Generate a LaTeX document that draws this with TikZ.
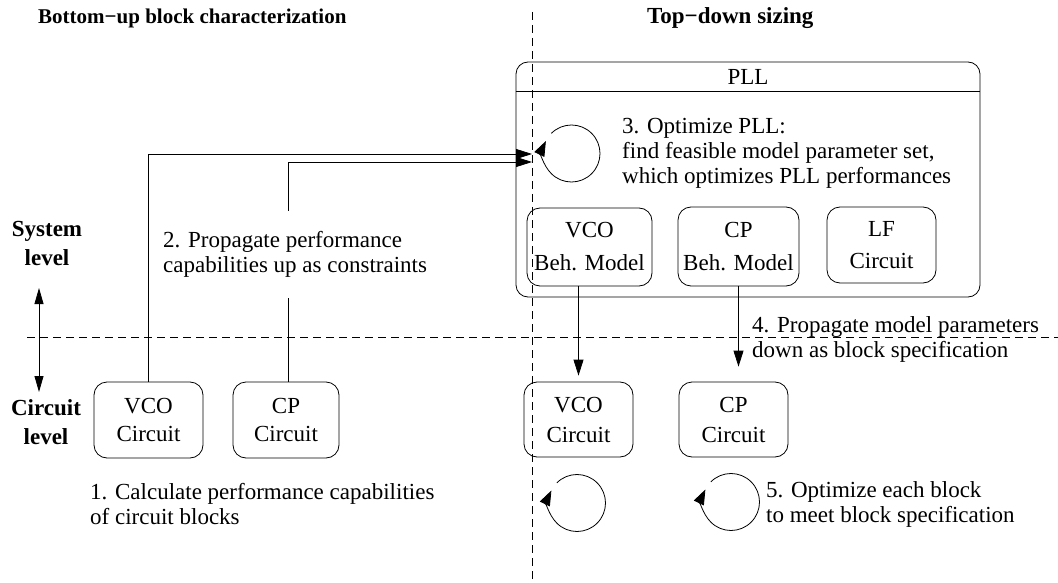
\documentclass[tikz,border=0pt]{standalone}
\usepackage{fontspec}
\setmainfont{Liberation Serif}
\usetikzlibrary{arrows.meta}
\begin{document}
\begin{tikzpicture}[x=1pt,y=-1pt,
  every node/.style={font=\fontsize{23}{25}\selectfont},
  conn/.style={line width=0.8pt},
  arr/.style={conn,-{Triangle[length=16pt,width=10pt]}},
  divider/.style={line width=0.8pt,dash pattern=on 8pt off 5pt},
  blockbox/.style={draw,line width=0.8pt,rounded corners=13pt,align=center,inner sep=0pt},
  note/.style={align=left,inner sep=0pt,anchor=west},
  heading/.style={font=\fontsize{23}{25}\selectfont\bfseries,inner sep=0pt},
  levellabel/.style={font=\fontsize{23}{29}\selectfont\bfseries,align=center,inner sep=0pt},
  loopy/.pic={\draw[conn,-{Triangle[length=15pt,width=11pt]}]
    (225:28.5) arc[start angle=225,end angle=566,radius=28.5];}
]
\useasboundingbox (0,0) rectangle (1058,583);

% dividers between the two phases and the two levels
\coordinate (vtop) at (532,12);
\coordinate (vbot) at (532,583);
\coordinate (hl) at (27,337);
\coordinate (hr) at (1058,337);
\draw[divider] (vtop) -- (vbot);
\draw[divider] (hl) -- (hr);

% headings
\node[heading,font=\fontsize{21}{25}\selectfont\bfseries,anchor=west] (hbu) at (38,18) {Bottom−up block characterization};
\node[heading,anchor=west] (htd) at (647,18) {Top−down sizing};

% level labels and the arrow between them
\node[levellabel] (sys) at (47,243) {System\\level};
\node[levellabel] (cir) at (46,422) {Circuit\\level};
\coordinate (lvup) at (39,288);
\coordinate (lvdn) at (39,392);
\draw[conn,{Triangle[length=16pt,width=9pt]}-{Triangle[length=16pt,width=9pt]}] (lvup) -- (lvdn);

% PLL system block
\node[draw,line width=0.8pt,rounded corners=12pt,minimum width=464pt,minimum height=235pt,inner sep=0pt] (pll) at (748,179.5) {};
\draw[conn] ([yshift=-30pt]pll.north west) -- ([yshift=-30pt]pll.north east);
\node[inner sep=0pt] (plltitle) at (748,77) {PLL};
\node[blockbox,minimum width=125pt,minimum height=78pt] (vcob) at (589.5,247) {VCO\\[8pt]Beh. Model};
\node[blockbox,minimum width=121pt,minimum height=79pt] (cpb) at (738.5,246.5) {CP\\[8pt]Beh. Model};
\node[blockbox,minimum width=109pt,minimum height=76pt] (lfb) at (881.5,245) {LF\\[7pt]Circuit};

% circuit blocks, bottom-up side
\node[blockbox,minimum width=109pt,minimum height=76pt] (vcol) at (148.5,420) {VCO\\[3pt]Circuit};
\node[blockbox,minimum width=106pt,minimum height=76pt] (cpl) at (286,420) {CP\\[3pt]Circuit};

% circuit blocks, top-down side
\node[blockbox,minimum width=109pt,minimum height=75pt] (vcor) at (578.5,419.5) {VCO\\[5pt]Circuit};
\node[blockbox,minimum width=109pt,minimum height=75pt] (cpr) at (733.5,419.5) {CP\\[5pt]Circuit};

% capabilities passed up into the PLL optimization
\coordinate (in1) at (532,154);
\coordinate (in2) at (532,162);
\draw[arr] (vcol.north) |- (in1);
\draw[arr] ([xshift=2pt]cpl.north) |- (in2);
\node[note,fill=white,inner xsep=2pt,inner ysep=20pt] (step2) at (161,254.5)
  {2. Propagate performance\\capabilities up as constraints};

% specifications passed down
\draw[arr,shorten >=6pt] (vcor.north |- vcob.south) -- (vcor.north);
\draw[arr,shorten >=15pt] (cpb.south) -- (cpb.south |- cpr.north);

% optimization loops
\pic at (571.5,153.5) {loopy};
\pic at (577,503) {loopy};
\pic at (731,502) {loopy};

% step notes
\node[note] (step3) at (622,153) {3. Optimize PLL:\\find feasible model parameter set,\\which optimizes PLL performances};
\node[note] (step4) at (752,339.5) {4. Propagate model parameters\\down as block specification};
\node[note] (step1) at (90,504) {1. Calculate performance capabilities\\of circuit blocks};
\node[note] (step5) at (766,504) {5. Optimize each block\\to meet block specification};
\end{tikzpicture}
\end{document}
